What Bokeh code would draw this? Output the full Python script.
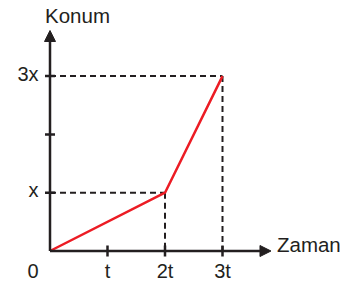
from bokeh.plotting import figure
from bokeh.models import Arrow, NormalHead, Range1d, LabelSet, ColumnDataSource
from bokeh.core.properties import value
from bokeh.embed import file_html
from bokeh.resources import INLINE

# data
time = [0, 2, 3]          # in units of t
position = [0, 1, 3]      # in units of x
x_ticks = [1, 2, 3]
x_labels = ["t", "2t", "3t"]
y_ticks = [1, 2, 3]
y_labels = ["x", "", "3x"]
origin_label = "0"
x_title = "Zaman"
y_title = "Konum"

# axis extents (arrow tips) in data units
x_axis_end = 3.843
y_axis_end = 3.782

INK = "#231f20"
RED = "#ec1c24"
FONT = value("Liberation Sans")

p = figure(width=350, height=286,
           x_range=Range1d(-0.8609, 5.226), y_range=Range1d(-0.6089, 4.2967),
           x_axis_type=None, y_axis_type=None, title=None,
           output_backend="svg", toolbar_location=None, min_border=0)
p.outline_line_color = None
p.background_fill_color = "white"

# dashed guide lines to marked points
gx0, gy0, gx1, gy1 = [], [], [], []
for tx, py in zip(time[1:], position[1:]):
    gx0 += [0, tx]; gy0 += [py, py]; gx1 += [tx, tx]; gy1 += [py, 0]
p.segment(x0=gx0, y0=gy0, x1=gx1, y1=gy1, line_color=INK, line_width=2,
          line_dash="6 4")

# axes with arrows
for xe, ye in [(x_axis_end, 0), (0, y_axis_end)]:
    p.add_layout(Arrow(x_start=0, y_start=0, x_end=xe, y_end=ye,
                       line_color=INK, line_width=2.5,
                       end=NormalHead(size=11, fill_color=INK, line_color=INK,
                                      line_width=1)))

# ticks
p.scatter(x=x_ticks, y=[0] * len(x_ticks), marker="dash", size=11, angle=1.5708,
          line_color=INK, line_width=2.5)
p.scatter(x=[0] * len(y_ticks), y=y_ticks, marker="dash", size=10,
          line_color=INK, line_width=2.5)

# position-time line
p.line(x=time, y=position, line_color=RED, line_width=2.5)


def labels(xs, ys, texts, align, xo, yo, size):
    src = ColumnDataSource(dict(x=xs, y=ys, text=texts))
    p.add_layout(LabelSet(x="x", y="y", text="text", source=src,
                          text_align=align, text_baseline="alphabetic",
                          x_offset=xo, y_offset=yo, text_font=FONT,
                          text_font_size=value(size), text_color=INK))


# tick labels (LabelSet y_offset: positive = up)
labels(x_ticks, [0] * len(x_ticks), x_labels, "center", 0, -26.5, "20px")
labels([0], [0], [origin_label], "center", -17, -26.5, "20px")
yl = [(t, l) for t, l in zip(y_ticks, y_labels) if l]
labels([0] * len(yl), [t for t, _ in yl], [l for _, l in yl], "right",
       -11.5, -4.5, "20px")
# axis titles
labels([x_axis_end], [0], [x_title], "left", 6, -1, "20.5px")
labels([0], [y_axis_end], [y_title], "left", -5, 8, "20.5px")

open("out.html", "w").write(file_html(p, INLINE))
